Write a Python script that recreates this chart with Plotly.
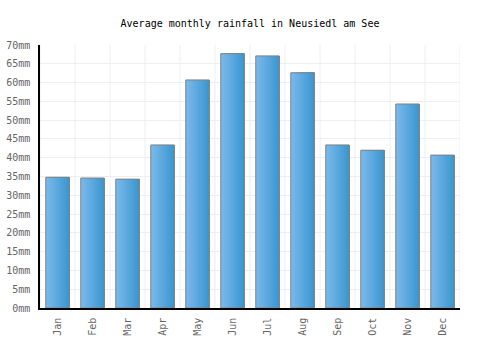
import plotly.graph_objects as go

months = ["Jan", "Feb", "Mar", "Apr", "May", "Jun", "Jul", "Aug", "Sep", "Oct", "Nov", "Dec"]
rainfall_mm = [34.8, 34.6, 34.3, 43.4, 60.7, 67.7, 67.1, 62.6, 43.4, 42.0, 54.3, 40.7]
y_ticks = list(range(0, 75, 5))
y_tick_labels = [f"{v}mm" for v in y_ticks]

bar_w = 0.67
n_strips = 14
c0 = (122, 184, 234)
c1 = (59, 152, 210)

fig = go.Figure()
for i in range(n_strips):
    t = i / (n_strips - 1)
    col = tuple(round(a + (b - a) * t) for a, b in zip(c0, c1))
    off = -bar_w / 2 + bar_w * i / n_strips
    fig.add_trace(go.Bar(
        x=months, y=rainfall_mm,
        width=bar_w / 2 - off, offset=off,
        marker=dict(color=f"rgb{col}", line=dict(width=0)),
        hoverinfo="skip", showlegend=False,
    ))
fig.add_trace(go.Bar(
    x=months, y=rainfall_mm, width=bar_w, offset=-bar_w / 2,
    marker=dict(color="rgba(0,0,0,0)", line=dict(color="#808080", width=1)),
    showlegend=False,
))

fig.update_layout(
    width=500, height=350,
    margin=dict(l=40, r=40, t=45, b=42),
    barmode="overlay",
    paper_bgcolor="white", plot_bgcolor="white",
    font=dict(family="DejaVu Sans Mono", size=10, color="#666666"),
    title=dict(text="Average monthly rainfall in Neusiedl am See", x=0.5, xanchor="center",
               y=1 - 23 / 350, yanchor="middle",
               font=dict(family="DejaVu Sans Mono", size=10, color="#000000")),
    xaxis=dict(
        showline=True, linecolor="#000000", linewidth=1.5,
        showgrid=False, tickangle=-90,
        ticks="outside", ticklen=4, tickcolor="rgba(0,0,0,0)",
        range=[-0.5, 11.5], automargin=False,
    ),
    yaxis=dict(
        range=[0, 70], tickvals=y_ticks, ticktext=y_tick_labels,
        showline=True, linecolor="#000000", linewidth=1.5,
        gridcolor="#eeeeee", gridwidth=1, zeroline=False,
        ticks="outside", ticklen=6, tickcolor="rgba(0,0,0,0)",
        automargin=False,
    ),
)
# vertical gridlines at category boundaries
for k in range(13):
    fig.add_vline(x=k - 0.5, line=dict(color="#eeeeee", width=1), layer="below")

fig.write_html("out.html")
